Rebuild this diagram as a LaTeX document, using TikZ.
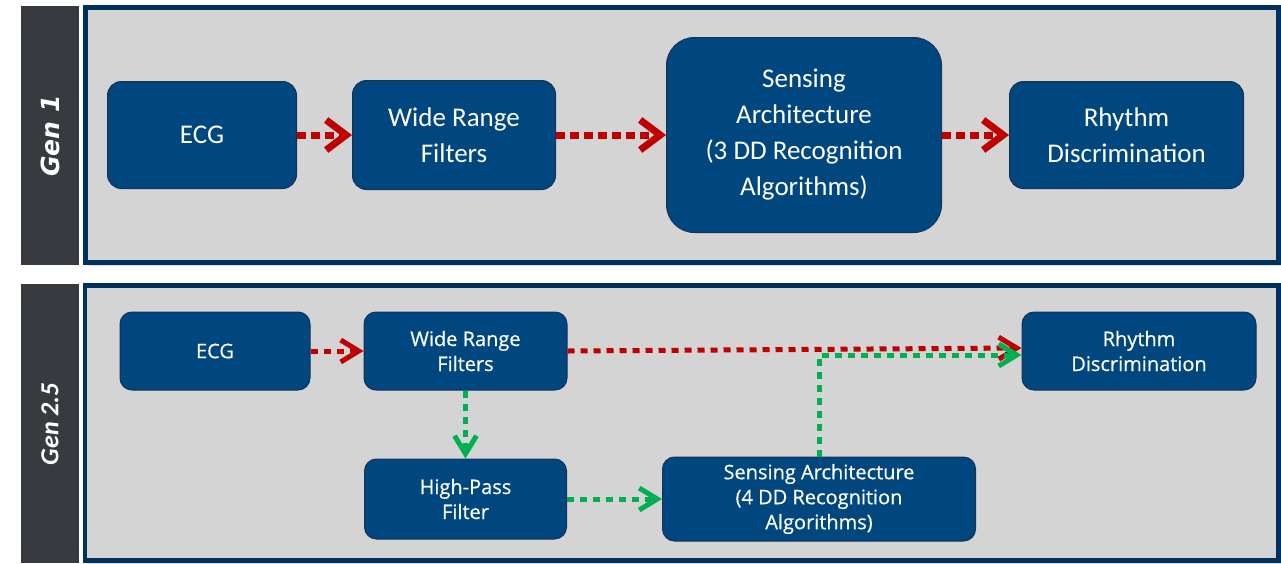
\documentclass[tikz,border=0pt]{standalone}
\usepackage{fontspec}
\setmainfont{Carlito}
\newfontfamily\lowfont[FakeBold=0.5]{Open Sans}
\newfontfamily\genonefont{DejaVu Sans}
\usepackage{tikz}
\usetikzlibrary{arrows.meta, positioning, shadows}
\definecolor{nodefill}{RGB}{0, 70, 127}
\definecolor{nodeborder}{RGB}{22, 50, 88}
\definecolor{panelborder}{RGB}{0, 48, 94}
\definecolor{panelbg}{RGB}{212, 212, 212}
\definecolor{genbg}{RGB}{55, 59, 63}
\definecolor{flowred}{RGB}{192, 0, 0}
\definecolor{flowgreen}{RGB}{0, 176, 80}
\tikzset{
  stageblock/.style={
    rectangle, rounded corners=14pt, draw=nodeborder, line width=1pt,
    fill=nodefill, text=white, align=center, inner sep=2pt
  },
  topblock/.style={stageblock, font=\fontsize{27}{36}\selectfont},
  lowblock/.style={stageblock, rounded corners=12pt, font=\lowfont\fontsize{20}{25}\selectfont},
  panelframe/.style={
    draw=panelborder, fill=panelbg, line width=5pt,
    drop shadow={shadow xshift=2pt, shadow yshift=-3pt, opacity=0.3, fill=black!50}
  },
  genbar/.style={fill=genbg},
  genlabel/.style={text=white, rotate=90},
  topflow/.style={
    line width=7pt, dash pattern=on 9pt off 5pt,
    -{Straight Barb[length=20pt, width=30pt]}
  },
  lowflow/.style={
    line width=5pt, dash pattern=on 7pt off 6pt,
    -{Straight Barb[length=18pt, width=22pt]}
  },
  redflow/.style={draw=flowred},
  greenflow/.style={draw=flowgreen}
}

\begin{document}
\begin{tikzpicture}[x=1pt, y=-1pt]
  \useasboundingbox (0,0) rectangle (1281,563);

  % Gen 1 panel
  \fill[genbar] (21,6) rectangle (79,265);
  \node[genlabel, font=\genonefont\bfseries\itshape\fontsize{25}{30}\selectfont] (gen1) at (50,136) {Gen 1};
  \draw[panelframe] (85.5,7.5) rectangle (1278.5,262.5);

  \node[topblock, minimum width=189pt, minimum height=107pt] (ecg1) at (202,135) {ECG};
  \node[topblock, right=55pt of ecg1, minimum width=203pt, minimum height=109pt] (wrf1) {Wide Range\\Filters};
  \node[topblock, right=110pt of wrf1, rounded corners=28pt, minimum width=275pt, minimum height=195pt] (sa1)
    {Sensing\\Architecture\\(3 DD Recognition\\Algorithms)};
  \node[topblock, right=67pt of sa1, minimum width=234pt, minimum height=107pt] (rd1) {Rhythm\\Discrimination};

  \draw[topflow, redflow] (ecg1) -- (wrf1);
  \draw[topflow, redflow] (wrf1) -- (sa1);
  \draw[topflow, redflow] (sa1) -- (rd1);

  % Gen 2.5 panel
  \fill[genbar] (21,284) rectangle (79,563);
  \node[genlabel, font=\bfseries\itshape\fontsize{26}{30}\selectfont] (gen2) at (50,424) {Gen 2.5};
  \draw[panelframe, line width=4.5pt] (85,285.5) rectangle (1278.5,560.5);

  \node[lowblock, minimum width=190pt, minimum height=78pt] (ecg2) at (215,351) {ECG};
  \node[lowblock, right=53pt of ecg2, minimum width=203pt, minimum height=78pt] (wrf2) {Wide Range\\Filters};
  \node[lowblock, below=68pt of wrf2, minimum width=202pt, minimum height=80pt] (hpf2) {High-Pass\\Filter};
  \node[lowblock, right=95pt of hpf2, minimum width=313pt, minimum height=84pt] (sa2)
    {Sensing Architecture\\(4 DD Recognition\\Algorithms)};
  \node[lowblock, minimum width=234pt, minimum height=78pt] (rd2) at (1139,351) {Rhythm\\Discrimination};

  \draw[lowflow, redflow] (ecg2) -- (wrf2);
  \draw[lowflow, redflow] (wrf2.east) -- ([yshift=3pt]rd2.west);
  \draw[lowflow, greenflow] (wrf2) -- (hpf2);
  \draw[lowflow, greenflow] (hpf2) -- (sa2);
  \draw[lowflow, greenflow] (sa2.north) |- ([yshift=-4pt]rd2.west);
\end{tikzpicture}
\end{document}
